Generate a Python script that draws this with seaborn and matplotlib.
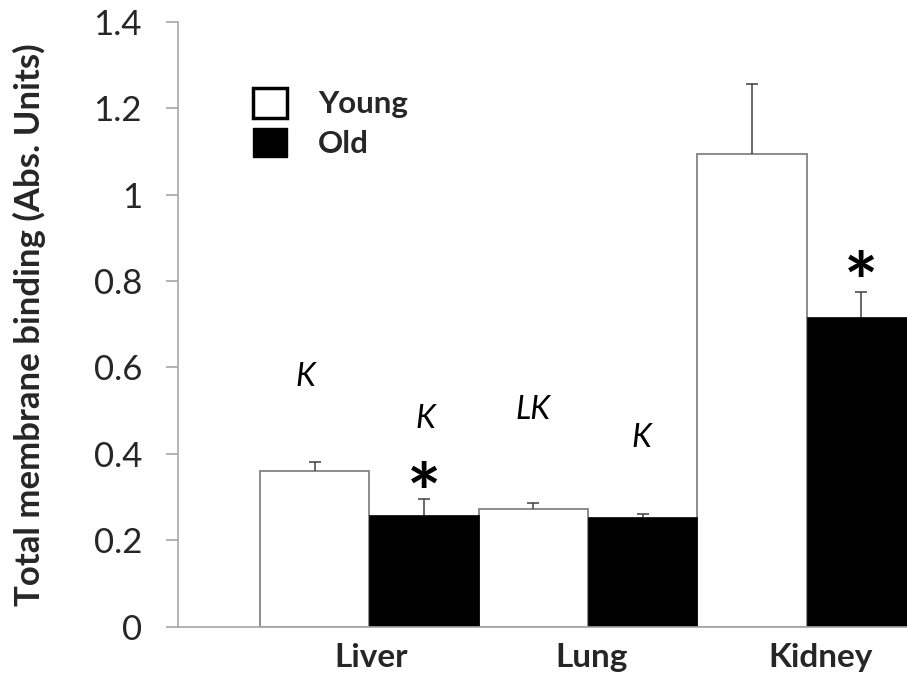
import matplotlib
matplotlib.use("Agg")
import matplotlib.pyplot as plt
from matplotlib.patches import Patch
from matplotlib.transforms import ScaledTranslation
import seaborn as sns
import pandas as pd

# Data
organs = ["Liver", "Lung", "Kidney"]
groups = ["Young", "Old"]
young_values = [0.360, 0.272, 1.094]
old_values = [0.258, 0.253, 0.717]
young_err = [0.022, 0.015, 0.161]
old_err = [0.037, 0.008, 0.058]
y_ticks = [0, 0.2, 0.4, 0.6, 0.8, 1.0, 1.2, 1.4]
y_tick_labels = ["0", "0.2", "0.4", "0.6", "0.8", "1", "1.2", "1.4"]

# Significance annotations: (text, x in category units, y in data units)
letters = [("K", -0.29, 0.577), ("K", 0.254, 0.480), ("LK", 0.748, 0.501), ("K", 1.245, 0.436)]
stars = [(0.25, 0.296), (2.25, 0.783)]

df = pd.DataFrame({
    "organ": organs * 2,
    "group": ["Young"] * 3 + ["Old"] * 3,
    "value": young_values + old_values,
})

sns.set_style("white")
plt.rcParams["font.family"] = ["Lato", "DejaVu Sans"]

fig = plt.figure(figsize=(9.07, 6.77), dpi=100)
ax = fig.add_axes([0.1963, 0.0743, 0.8037, 0.8936])

sns.barplot(data=df, x="organ", y="value", hue="group", order=organs,
            hue_order=groups, palette={"Young": "white", "Old": "black"},
            width=1.0, gap=0, errorbar=None, legend=False, ax=ax,
            saturation=1, edgecolor="black", linewidth=0)

# Bar outlines and upward-only error bars placed on the drawn bars
for bar in ax.patches:
    fc = bar.get_facecolor()
    if fc[0] > 0.5:
        bar.set_edgecolor("#8c8c8c")
        bar.set_linewidth(1.4)
        vals, errs = young_values, young_err
    else:
        bar.set_edgecolor("black")
        bar.set_linewidth(0.5)
        vals, errs = old_values, old_err
    cx = bar.get_x() + bar.get_width() / 2
    h = bar.get_height()
    idx = min(range(3), key=lambda i: abs(vals[i] - h))
    cont = ax.errorbar(cx, h, yerr=[[0], [errs[idx]]], fmt="none",
                       ecolor="#404040", elinewidth=1.1, capsize=4,
                       capthick=1.1, zorder=3)
    caps = cont[1]
    if len(caps) == 2:
        caps[0].set_visible(False)
        caps[1].set_color("#707070")

for txt, x, y in letters:
    ax.text(x, y, txt, ha="center", va="center", fontsize=23,
            fontstyle="italic", color="black")
for x, y in stars:
    ax.text(x, y, "*", ha="center", va="center", fontsize=58,
            fontweight="bold", color="black")

ax.set_xlim(-0.874, 2.458)
ax.set_ylim(0, 1.4)
ax.set_yticks(y_ticks)
ax.set_yticklabels(y_tick_labels, fontsize=25)
ax.set_xlabel("")
ax.set_ylabel("Total membrane binding (Abs. Units)", fontsize=25,
              fontweight="bold", labelpad=34)
ax.set_xticks(range(3))
ax.set_xticklabels(organs, fontsize=24, fontweight="bold")

sns.despine(ax=ax, top=True, right=True)
for side in ("left", "bottom"):
    ax.spines[side].set_color("#a6a6a6")
    ax.spines[side].set_linewidth(1.2)
ax.tick_params(axis="y", which="major", length=9, width=1.2, color="#a6a6a6",
               direction="out", pad=17, left=True)
ax.tick_params(axis="x", which="major", length=0, pad=12)

# Nudge category labels slightly to the right
for lab, dx in zip(ax.get_xticklabels(), [2, 4, 14]):
    lab.set_transform(lab.get_transform() + ScaledTranslation(dx / 100, 0, fig.dpi_scale_trans))

handles = [Patch(facecolor="white", edgecolor="black", linewidth=2.5),
           Patch(facecolor="black", edgecolor="black", linewidth=1)]
leg = fig.legend(handles, groups, loc="upper left",
                 bbox_to_anchor=(253 / 907, 1 - 88 / 677),
                 frameon=False, borderpad=0, borderaxespad=0,
                 handlelength=1.08, handleheight=1.08, handletextpad=1.0,
                 labelspacing=0.3, prop={"family": "Lato", "weight": "bold",
                                         "size": 22.5})

fig.savefig("out.png", dpi=100)
